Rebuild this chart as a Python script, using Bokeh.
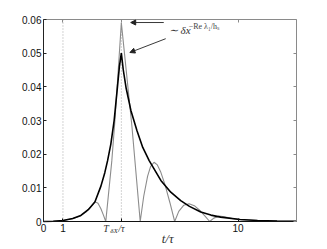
from bokeh.plotting import figure
from bokeh.models import (Range1d, LinearAxis, FixedTicker, CustomJSTickFormatter,
                          Label, Arrow, NormalHead)
from bokeh.embed import file_html
from bokeh.resources import INLINE

# ---- data ----
gray_t = [0, 0.5, 1, 1.5, 1.9, 2.2, 2.45, 2.64, 2.8, 2.95, 3.08, 3.2, 3.51, 3.67, 4.0,
          4.54, 4.97, 5.15, 5.35, 5.5, 5.68, 5.85, 6.03, 6.25, 6.5, 6.74, 6.95, 7.2,
          7.48, 7.75, 8.05, 8.3, 8.54, 8.75, 9.02, 9.3, 9.7, 10.1, 11, 12, 13]
gray_y = [0, 0.00005, 0.0003, 0.0008, 0.0017, 0.0029, 0.0045, 0.0059, 0.0054, 0.0038,
          0.0019, 0, 0.018, 0.030, 0.059, 0.0285, 0, 0.0075, 0.0135, 0.0163, 0.0176,
          0.0168, 0.0146, 0.0108, 0.0055, 0, 0.0030, 0.0048, 0.0053, 0.0047, 0.0032,
          0.0016, 0, 0.0010, 0.0016, 0.0014, 0.0009, 0.0006, 0.0003, 0.00012, 0.00005]

black_t = [0, 0.5, 1, 1.5, 1.92, 2.3, 2.64, 2.95, 3.15, 3.29, 3.46, 3.63, 3.8, 3.9, 4.0,
           4.1, 4.25, 4.49, 4.8, 5.1, 5.43, 6.03, 6.54, 7.05, 7.5, 8.08, 8.6, 9.1,
           10.1, 11, 12, 13]
black_y = [0, 0.00008, 0.0003, 0.0009, 0.0018, 0.0035, 0.0058, 0.0105, 0.0145, 0.018,
           0.023, 0.030, 0.040, 0.046, 0.050, 0.045, 0.0395, 0.033, 0.027, 0.022,
           0.0181, 0.0122, 0.0087, 0.0062, 0.0045, 0.0028, 0.0019, 0.0013, 0.0006,
           0.0003, 0.00015, 0.00008]

x_ticks = [0, 1, 4, 10]
y_ticks = [0, 0.01, 0.02, 0.03, 0.04, 0.05, 0.06]
x_lim = (0, 13)
y_lim = (0, 0.06)
ref_lines = [1, 4]

SANS = "Liberation Sans"
SERIF = "Liberation Serif"

# ---- layout: the frame fills the canvas; the axes sit at fixed data locations ----
W, H = 327, 249
FX0, FX1, FY0, FY1 = 43, 296, 221, 19        # pixel box of the axes
sx = (FX1 - FX0) / (x_lim[1] - x_lim[0])
sy = (FY0 - FY1) / (y_lim[1] - y_lim[0])
xr = Range1d(x_lim[0] - FX0 / sx, x_lim[1] + (W - FX1) / sx)
yr = Range1d(y_lim[0] - (H - FY0) / sy, y_lim[1] + FY1 / sy)
PX = 1 / sy  # one pixel in y data units

p = figure(width=W, height=H, output_backend="svg", toolbar_location=None, title=None,
           x_range=xr, y_range=yr, min_border=0,
           x_axis_location=None, y_axis_location=None)
p.outline_line_color = None
p.grid.visible = False
p.background_fill_color = "white"
p.border_fill_color = "white"

def style_axis(ax, color, show_labels):
    ax.major_tick_in = 3
    ax.major_tick_out = 0
    ax.minor_tick_in = 0
    ax.minor_tick_out = 0
    ax.axis_line_color = color
    ax.major_tick_line_color = color
    ax.axis_line_width = 1
    if show_labels:
        ax.major_label_text_font = SANS
        ax.major_label_text_font_size = "10px"
        ax.major_label_text_color = "#111111"
        ax.major_label_standoff = 2
    else:
        ax.major_label_text_font_size = "1px"
        ax.major_label_text_color = None
        ax.major_label_standoff = 0

bottom = LinearAxis(ticker=FixedTicker(ticks=x_ticks), fixed_location=y_lim[0], bounds=x_lim)
bottom.major_label_overrides = {4: ""}
style_axis(bottom, "#111111", True)
p.add_layout(bottom, "below")

left = LinearAxis(ticker=FixedTicker(ticks=y_ticks), fixed_location=x_lim[0], bounds=y_lim)
left.formatter = CustomJSTickFormatter(code="return tick == 0 ? '0' : tick.toFixed(2);")
style_axis(left, "#222222", True)
p.add_layout(left, "left")

top = LinearAxis(ticker=FixedTicker(ticks=x_ticks), fixed_location=y_lim[1], bounds=x_lim)
style_axis(top, "#8a8a8a", False)
p.add_layout(top, "above")

right = LinearAxis(ticker=FixedTicker(ticks=y_ticks), fixed_location=x_lim[1], bounds=y_lim)
style_axis(right, "#8a8a8a", False)
p.add_layout(right, "right")

# dotted reference lines at t = 1 and t = T_dX
p.segment(x0=ref_lines, y0=[y_lim[0]] * len(ref_lines), x1=ref_lines,
          y1=[y_lim[1]] * len(ref_lines), line_color="#a8a8a8", line_dash="1 2",
          line_width=1)

p.line(gray_t, gray_y, line_color="#8c8c8c", line_width=1.1)
p.line(black_t, black_y, line_color="#000000", line_width=1.6)

# arrows and annotation
for xs, ys, xe, ye in [(6.18, 0.0591, 4.48, 0.0591), (6.28, 0.0543, 4.44, 0.0502)]:
    p.add_layout(Arrow(x_start=xs, y_start=ys, x_end=xe, y_end=ye,
                       line_color="#222222", line_width=0.9,
                       end=NormalHead(size=5, fill_color="#222222", line_color="#222222")))

p.add_layout(Label(x=6.44, y=0.0568, text="∼  δx", text_font=SERIF, text_font_style="italic",
                   text_font_size="11px", text_color="#333333", text_baseline="middle"))
p.add_layout(Label(x=7.46, y=0.0580, text="−Re λ₁/hₛ", text_font=SERIF,
                   text_font_size="8px", text_color="#444444", text_baseline="middle"))

def dlabel(x, x_off, y_px, text, size, align="left"):
    p.add_layout(Label(x=x, y=y_lim[0] - y_px * PX, x_offset=x_off, text=text,
                       text_font=SERIF, text_font_style="italic", text_font_size=size,
                       text_color="#333333", text_align=align, text_baseline="middle"))

# T_dX / tau tick label at t = 4
dlabel(x_ticks[2], -18, 7, "T", "10px")
dlabel(x_ticks[2], -11, 9.5, "δX", "7px")
dlabel(x_ticks[2], -3, 7, "/τ", "10px")
# axis title
dlabel(6.38, 0, 17, "t/τ", "13px", "center")

open("out.html", "w").write(file_html(p, INLINE))
